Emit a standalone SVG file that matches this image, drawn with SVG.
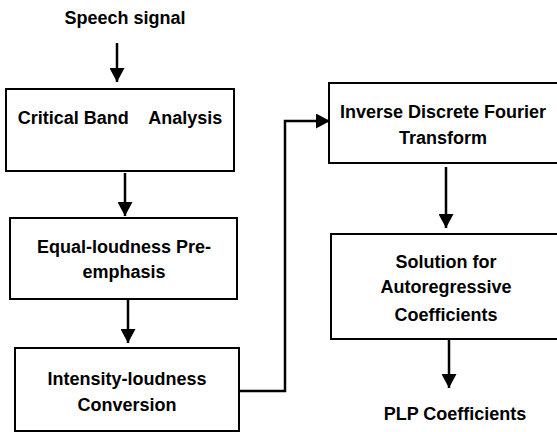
<svg xmlns="http://www.w3.org/2000/svg" width="557" height="432" viewBox="0 0 557 432">
<style>
.box{fill:#fff;stroke:#000;stroke-width:2}
.t{font-family:"Liberation Sans",Arial,sans-serif;font-weight:bold;font-size:18px;fill:#000;text-anchor:middle}
.c{fill:none;stroke:#000;stroke-width:2.5}
</style>
<defs>
<marker id="ah" markerWidth="14" markerHeight="15" refX="14" refY="7.5" orient="auto" markerUnits="userSpaceOnUse">
<path d="M0,0 L14,7.5 L0,15 Z" fill="#000"/>
</marker>
</defs>
<rect width="557" height="432" fill="#fff"/>
<text id="speech" class="t" x="125" y="24">Speech signal</text>
<g id="cba">
<rect class="box" x="6" y="89" width="228" height="82"/>
<text class="t" x="120" y="124" xml:space="preserve">Critical Band    Analysis</text>
</g>
<g id="elp">
<rect class="box" x="10" y="218" width="227" height="81"/>
<text class="t" x="124" y="253">Equal-loudness Pre-</text>
<text class="t" x="124" y="278">emphasis</text>
</g>
<g id="ilc">
<rect class="box" x="15" y="348" width="224" height="83"/>
<text class="t" x="127" y="385">Intensity-loudness</text>
<text class="t" x="127" y="411">Conversion</text>
</g>
<g id="idft">
<rect class="box" x="329" y="83" width="240" height="80"/>
<text class="t" x="443" y="118">Inverse Discrete Fourier</text>
<text class="t" x="443" y="144">Transform</text>
</g>
<g id="sac">
<rect class="box" x="331" y="234" width="240" height="105"/>
<text class="t" x="446" y="268">Solution for</text>
<text class="t" x="446" y="293">Autoregressive</text>
<text class="t" x="446" y="321">Coefficients</text>
</g>
<text id="plp" class="t" x="455" y="420">PLP Coefficients</text>
<g id="connectors">
<line class="c" x1="117" y1="43" x2="117" y2="82" marker-end="url(#ah)"/>
<line class="c" x1="125" y1="173" x2="125" y2="216" marker-end="url(#ah)"/>
<line class="c" x1="128" y1="300" x2="128" y2="343" marker-end="url(#ah)"/>
<polyline class="c" points="240,391 285,391 285,121 330,121" marker-end="url(#ah)"/>
<line class="c" x1="446" y1="167" x2="446" y2="228" marker-end="url(#ah)"/>
<line class="c" x1="449" y1="340" x2="449" y2="388" marker-end="url(#ah)"/>
</g>
</svg>
